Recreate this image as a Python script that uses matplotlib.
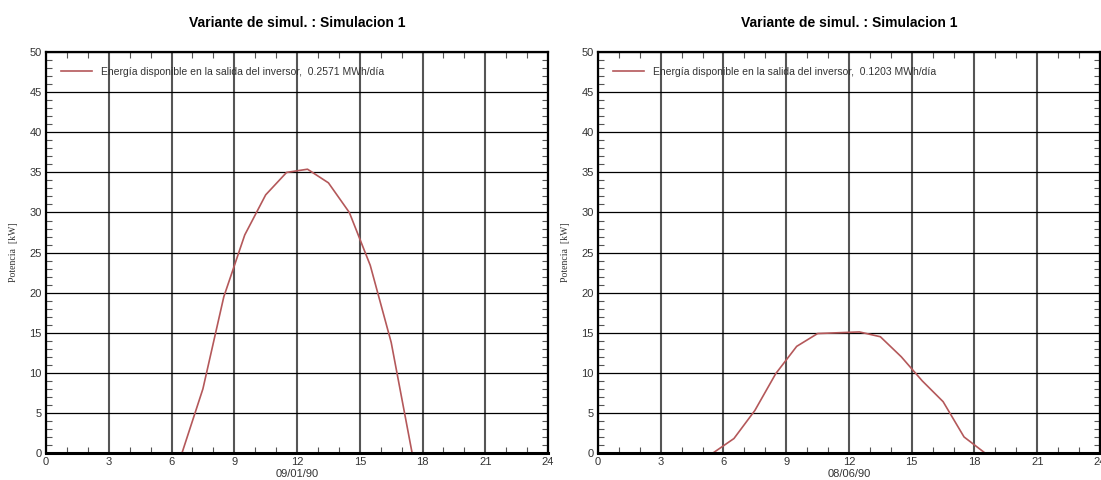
import numpy as np
import matplotlib
matplotlib.use("Agg")
import matplotlib.pyplot as plt
from matplotlib.ticker import MultipleLocator

plt.rcParams['font.family'] = ['Liberation Sans', 'DejaVu Sans']

# horas (valores horarios centrados en la media hora)
horas = [h + 0.5 for h in range(24)]

# Potencia [kW] - 09/01/90
potencia_ene = [0, 0, 0, 0, 0, 0, 0, 8.0, 19.5, 27.2, 32.2, 35.0,
                35.4, 33.7, 30.0, 23.4, 13.8, 0, 0, 0, 0, 0, 0, 0]
# Potencia [kW] - 08/06/90
potencia_jun = [0, 0, 0, 0, 0, 0, 1.8, 5.3, 9.9, 13.3, 14.9, 15.0,
                15.1, 14.5, 12.0, 9.0, 6.4, 2.0, 0, 0, 0, 0, 0, 0]

fechas = ['09/01/90', '08/06/90']
energias = ['0.2571', '0.1203']
titulo = 'Variante de simul. : Simulacion 1'
color_linea = '#b4585a'

fig = plt.figure(figsize=(11.01, 4.8), dpi=100)
ax1 = fig.add_axes([0.0418, 0.0563, 0.456, 0.835])
ax2 = fig.add_axes([0.5431, 0.0563, 0.456, 0.835])

for ax, pot, fecha, energia in zip([ax1, ax2], [potencia_ene, potencia_jun], fechas, energias):
    ax.plot(horas, pot, color=color_linea, lw=1.2,
            label=f'Energía disponible en la salida del inversor,  {energia} MWh/día')
    ax.set_xlim(0, 24)
    ax.set_ylim(0, 50)
    ax.xaxis.set_major_locator(MultipleLocator(3))
    ax.xaxis.set_minor_locator(MultipleLocator(1))
    ax.yaxis.set_major_locator(MultipleLocator(5))
    ax.yaxis.set_minor_locator(MultipleLocator(1))
    ax.tick_params(which='both', direction='in', top=True, right=True,
                   labelsize=8, colors='#333333', pad=3)
    ax.tick_params(which='major', length=0)
    ax.tick_params(which='minor', length=4, width=0.8, color='#555555')
    ax.grid(axis='x', which='major', color='#555555', lw=1.5)
    ax.grid(axis='y', which='major', color='black', lw=0.9)
    for s in ax.spines.values():
        s.set_linewidth(1.6)
        s.set_color('black')
    ax.spines['bottom'].set_linewidth(2.2)
    ax.set_xlabel(fecha, fontsize=8, color='#333333', labelpad=1)
    ax.set_ylabel('Potencia  [kW]', fontsize=7, family='Liberation Serif',
                  color='#333333', labelpad=8)
    ax.set_title(titulo, fontsize=10, fontweight='bold', pad=18)
    leg = ax.legend(loc='upper left', frameon=False, fontsize=7.5,
                    handlelength=3, handletextpad=0.9, borderaxespad=1.0)
    for t in leg.get_texts():
        t.set_color('#333333')

fig.savefig('out.png', dpi=100)
